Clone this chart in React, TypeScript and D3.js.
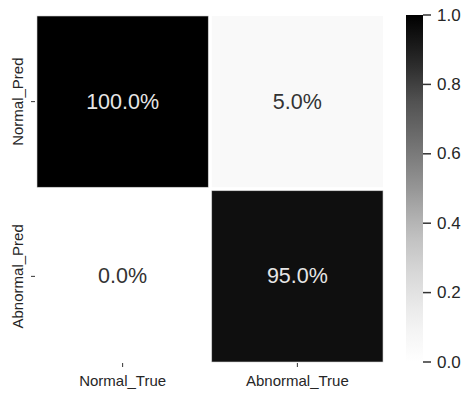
import React from 'react';
import * as d3 from 'd3';

// Confusion matrix: rows are predicted classes, columns are true classes
const trueLabels = ['Normal_True', 'Abnormal_True'];
const predLabels = ['Normal_Pred', 'Abnormal_Pred'];
const normalPredRow = [1.0, 0.05];
const abnormalPredRow = [0.0, 0.95];
const colorbarTicks = [0.0, 0.2, 0.4, 0.6, 0.8, 1.0];

const W = 468;
const H = 395;
const FONT = '"Liberation Sans", Arial, Helvetica, sans-serif';

export default function App() {
  const rows = [normalPredRow, abnormalPredRow];

  const x = d3.scaleBand<string>().domain(trueLabels).range([37, 383]).paddingInner(0.02);
  const y = d3.scaleBand<string>().domain(predLabels).range([16, 362]).paddingInner(0.02);

  // Sequential "Greys" colour map, white at 0 to black at 1
  const greys = d3.schemeGreys[9];
  const color = d3
    .scaleLinear<string>()
    .domain(greys.map((_, i) => i / (greys.length - 1)))
    .range(greys as string[]);
  const cb = d3.scaleLinear().domain([0, 1]).range([362, 15]);
  const cbX = 406;
  const cbW = 17;

  const fmt = (v: number) => `${(v * 100).toFixed(1)}%`;

  const cells = rows.flatMap((row, i) =>
    row.map((v, j) => ({ v, pred: predLabels[i], tru: trueLabels[j] }))
  );

  return (
    <svg
      width={W}
      height={H}
      style={{ position: 'absolute', left: 0, top: 0, background: '#ffffff' }}
      fontFamily={FONT}
    >
      <defs>
        <linearGradient id="cbGrad" x1="0" y1="1" x2="0" y2="0">
          {d3.range(0, 1.0001, 0.05).map((t) => (
            <stop key={t} offset={`${t * 100}%`} stopColor={color(t)} />
          ))}
        </linearGradient>
      </defs>

      {cells.map((c) => {
        const cx = x(c.tru)! + x.bandwidth() / 2;
        const cy = y(c.pred)! + y.bandwidth() / 2;
        return (
          <g key={c.pred + c.tru}>
            <rect
              x={x(c.tru)}
              y={y(c.pred)}
              width={x.bandwidth()}
              height={y.bandwidth()}
              fill={color(c.v)}
              stroke={c.v > 0.5 ? '#d0d0d0' : 'none'}
              strokeWidth={0.6}
            />
            <text
              x={cx}
              y={cy}
              textAnchor="middle"
              dominantBaseline="central"
              fontSize={21.5}
              fill={c.v > 0.5 ? '#e6e6e6' : '#333333'}
            >
              {fmt(c.v)}
            </text>
          </g>
        );
      })}

      {/* y axis: predicted labels */}
      {predLabels.map((p) => {
        const cy = y(p)! + y.bandwidth() / 2;
        return (
          <g key={p}>
            <line x1={31} x2={35} y1={cy} y2={cy} stroke="#333" strokeWidth={1} />
            <text
              transform={`translate(23,${cy}) rotate(-90)`}
              textAnchor="middle"
              fontSize={15}
              fill="#262626"
            >
              {p}
            </text>
          </g>
        );
      })}

      {/* x axis: true labels */}
      {trueLabels.map((t) => {
        const cx = x(t)! + x.bandwidth() / 2;
        return (
          <g key={t}>
            <line x1={cx} x2={cx} y1={363} y2={367} stroke="#333" strokeWidth={1} />
            <text x={cx} y={386} textAnchor="middle" fontSize={15} fill="#262626">
              {t}
            </text>
          </g>
        );
      })}

      {/* colorbar */}
      <rect x={cbX} y={cb(1)} width={cbW} height={cb(0) - cb(1)} fill="url(#cbGrad)" />
      {colorbarTicks.map((t) => (
        <g key={t}>
          <line x1={cbX + cbW} x2={cbX + cbW + 8} y1={cb(t)} y2={cb(t)} stroke="#333" strokeWidth={1.5} />
          <text
            x={cbX + cbW + 14}
            y={cb(t)}
            dominantBaseline="central"
            fontSize={17}
            fill="#262626"
          >
            {t.toFixed(1)}
          </text>
        </g>
      ))}
    </svg>
  );
}
